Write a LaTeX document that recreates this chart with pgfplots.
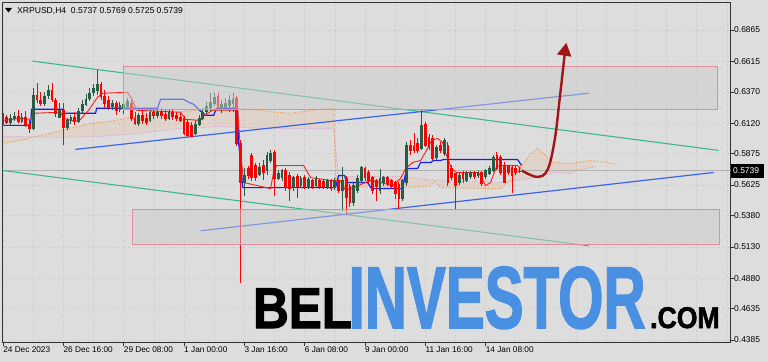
\documentclass[border=0pt]{standalone}
\usepackage{fontspec}
\setmainfont{Liberation Sans}
\newfontfamily\wmfont[FakeBold=2]{Liberation Sans Bold}
\usepackage{pgfplots}
\usepackage{pgfplotstable}
\pgfplotsset{compat=1.18}
\usetikzlibrary{arrows.meta}
\definecolor{bg}{RGB}{221,221,221}
\definecolor{bullc}{RGB}{40,92,68}
\definecolor{bearc}{RGB}{255,0,0}
\definecolor{chgreen}{RGB}{62,182,142}
\definecolor{chblue}{RGB}{60,100,235}
\definecolor{kijun}{RGB}{20,30,245}
\definecolor{tenkan}{RGB}{250,30,30}
\definecolor{spanA}{RGB}{244,164,96}
\definecolor{spanB}{RGB}{216,160,216}
\definecolor{rectb}{RGB}{226,140,160}
\definecolor{arrowc}{RGB}{160,22,22}
\definecolor{wmblue}{RGB}{74,144,226}

\pgfplotstableread{
x o h l c
0 0.6134 0.6199 0.6102 0.6167
2 0.6126 0.6191 0.6094 0.6158
3 0.6158 0.6207 0.6134 0.6175
5 0.6134 0.6199 0.6118 0.6167
8 0.6078 0.6399 0.6062 0.6343
11 0.6271 0.6367 0.6255 0.6335
12 0.6335 0.6423 0.6311 0.6383
15 0.6167 0.6279 0.6158 0.6223
17 0.6086 0.6158 0.6062 0.6142
18 0.6142 0.6183 0.6110 0.6167
20 0.6134 0.6239 0.6118 0.6215
21 0.6215 0.6303 0.6199 0.6271
22 0.6271 0.6351 0.6255 0.6311
23 0.6311 0.6399 0.6295 0.6359
24 0.6359 0.6431 0.6335 0.6399
25 0.6383 0.6544 0.6343 0.6431
29 0.6247 0.6303 0.6223 0.6279
31 0.6223 0.6287 0.6207 0.6263
32 0.6239 0.6303 0.6191 0.6271
33 0.6255 0.6319 0.6223 0.6295
36 0.6118 0.6199 0.6094 0.6183
39 0.6142 0.6223 0.6126 0.6207
41 0.6175 0.6223 0.6158 0.6207
44 0.6158 0.6231 0.6142 0.6207
51 0.6038 0.6142 0.6022 0.6110
52 0.6110 0.6183 0.6094 0.6158
53 0.6158 0.6239 0.6142 0.6207
54 0.6207 0.6287 0.6191 0.6255
55 0.6239 0.6359 0.6215 0.6287
56 0.6271 0.6359 0.6255 0.6327
58 0.6223 0.6303 0.6199 0.6271
59 0.6239 0.6319 0.6223 0.6279
60 0.6255 0.6343 0.6207 0.6303
61 0.6279 0.6359 0.6207 0.6311
64 0.5645 0.5757 0.5540 0.5701
68 0.5709 0.5797 0.5693 0.5765
70 0.5741 0.5885 0.5701 0.5861
71 0.5821 0.5902 0.5797 0.5877
73 0.5677 0.5741 0.5661 0.5717
74 0.5685 0.5757 0.5661 0.5741
77 0.5604 0.5701 0.5580 0.5685
79 0.5620 0.5693 0.5604 0.5677
81 0.5604 0.5693 0.5596 0.5669
83 0.5620 0.5693 0.5612 0.5677
86 0.5612 0.5677 0.5596 0.5661
88 0.5604 0.5685 0.5588 0.5661
90 0.5580 0.5765 0.5420 0.5661
93 0.5484 0.5645 0.5460 0.5620
94 0.5580 0.5701 0.5564 0.5677
95 0.5661 0.5781 0.5645 0.5765
100 0.5580 0.5757 0.5556 0.5677
101 0.5645 0.5701 0.5620 0.5685
106 0.5516 0.5677 0.5500 0.5661
107 0.5645 0.5966 0.5620 0.5942
111 0.5918 0.6223 0.5902 0.6102
115 0.5845 0.5942 0.5821 0.5926
117 0.5877 0.5998 0.5861 0.5982
121 0.5645 0.5725 0.5629 0.5701
123 0.5661 0.5733 0.5645 0.5717
124 0.5693 0.5741 0.5677 0.5725
126 0.5701 0.5741 0.5685 0.5725
128 0.5693 0.5757 0.5677 0.5741
129 0.5717 0.5773 0.5701 0.5757
130 0.5741 0.5861 0.5725 0.5845
137 0.5737 0.5769 0.5725 0.5739
}\bull

\pgfplotstableread{
x o h l c
1 0.6167 0.6183 0.6110 0.6126
4 0.6175 0.6223 0.6118 0.6134
6 0.6167 0.6215 0.6086 0.6110
7 0.6110 0.6142 0.6038 0.6078
9 0.6343 0.6440 0.6279 0.6303
10 0.6303 0.6367 0.6255 0.6271
13 0.6383 0.6440 0.6287 0.6303
14 0.6303 0.6319 0.6167 0.6199
16 0.6223 0.6279 0.5942 0.6086
19 0.6167 0.6207 0.6102 0.6134
26 0.6431 0.6448 0.6303 0.6335
27 0.6335 0.6383 0.6239 0.6271
28 0.6303 0.6335 0.6223 0.6247
30 0.6279 0.6295 0.6183 0.6223
34 0.6279 0.6303 0.6134 0.6158
35 0.6158 0.6207 0.6102 0.6118
37 0.6183 0.6223 0.6110 0.6142
38 0.6158 0.6199 0.6102 0.6126
40 0.6207 0.6231 0.6150 0.6175
42 0.6207 0.6239 0.6150 0.6175
43 0.6191 0.6223 0.6134 0.6158
45 0.6207 0.6223 0.6142 0.6167
46 0.6183 0.6207 0.6134 0.6158
47 0.6167 0.6199 0.6126 0.6142
48 0.6158 0.6175 0.6022 0.6038
49 0.6126 0.6142 0.6006 0.6022
50 0.6102 0.6126 0.6006 0.6014
57 0.6335 0.6359 0.6239 0.6255
62 0.6319 0.6335 0.5934 0.5958
63 0.5958 0.5982 0.4842 0.5645
65 0.5757 0.5781 0.5677 0.5701
66 0.5861 0.5885 0.5661 0.5685
67 0.5781 0.5805 0.5661 0.5685
69 0.5781 0.5821 0.5661 0.5725
72 0.5885 0.5902 0.5540 0.5677
75 0.5741 0.5757 0.5580 0.5604
76 0.5701 0.5725 0.5500 0.5596
78 0.5693 0.5709 0.5524 0.5612
80 0.5685 0.5701 0.5596 0.5612
82 0.5661 0.5677 0.5596 0.5612
84 0.5661 0.5677 0.5596 0.5612
85 0.5653 0.5669 0.5596 0.5612
87 0.5661 0.5677 0.5580 0.5596
89 0.5653 0.5669 0.5564 0.5580
91 0.5677 0.5701 0.5396 0.5524
92 0.5612 0.5629 0.5452 0.5484
96 0.5757 0.5773 0.5661 0.5685
97 0.5725 0.5741 0.5637 0.5661
98 0.5685 0.5701 0.5556 0.5580
99 0.5661 0.5677 0.5500 0.5612
102 0.5685 0.5701 0.5620 0.5637
103 0.5661 0.5677 0.5596 0.5612
104 0.5645 0.5661 0.5516 0.5556
105 0.5629 0.5645 0.5436 0.5516
108 0.5942 0.5982 0.5861 0.5902
109 0.5934 0.6038 0.5877 0.5902
110 0.5958 0.5998 0.5877 0.5902
112 0.6110 0.6126 0.5926 0.5942
113 0.6006 0.6030 0.5902 0.5926
114 0.5998 0.6022 0.5821 0.5837
116 0.5942 0.5966 0.5885 0.5902
118 0.5942 0.5966 0.5620 0.5645
119 0.5757 0.5781 0.5661 0.5685
120 0.5717 0.5725 0.5436 0.5620
122 0.5725 0.5741 0.5645 0.5677
125 0.5725 0.5741 0.5677 0.5693
127 0.5725 0.5741 0.5620 0.5637
131 0.5861 0.5885 0.5741 0.5757
132 0.5845 0.5861 0.5701 0.5725
133 0.5781 0.5805 0.5645 0.5645
134 0.5773 0.5781 0.5701 0.5725
135 0.5765 0.5781 0.5564 0.5701
136 0.5757 0.5773 0.5701 0.5725
}\bear

\begin{document}
\begin{tikzpicture}
\path[use as bounding box] (-2.5bp,-20bp) rectangle (765.5bp,342bp);
\fill[bg] (-2.5bp,-20bp) rectangle (765.5bp,342bp);
\begin{axis}[
  at={(0,0)}, anchor=south west,
  scale only axis, width=728bp, height=339.5bp,
  xmin=-0.15, xmax=192.95, ymin=0.4369, ymax=0.7085,
  axis line style={draw=black!80, line width=0.8bp},
  tick align=outside, major tick length=3.5bp, minor tick length=0pt,
  tick style={draw=black!80, line width=0.6bp},
  xtick pos=bottom, ytick pos=right, yticklabel pos=right,
  xtick={0,16,...,128},
  xticklabels={24 Dec 2023,26 Dec 16:00,29 Dec 08:00,1 Jan 00:00,3 Jan 16:00,6 Jan 08:00,9 Jan 00:00,11 Jan 16:00,14 Jan 08:00},
  minor xtick={8,24,40,56,72,88,104,120,136,144,152,160,168,176,184,192},
  ytick={0.4385,0.4635,0.4880,0.5130,0.5380,0.5625,0.5875,0.6120,0.6370,0.6615,0.6865},
  yticklabels={0.4385,0.4635,0.4880,0.5130,0.5380,0.5625,0.5875,0.6120,0.6370,0.6615,0.6865},
  xmajorgrids, xminorgrids, ymajorgrids,
  grid style={dash pattern=on 2.5bp off 2.5bp, draw=black!20, line width=0.6bp},
  minor grid style={dash pattern=on 2.5bp off 2.5bp, draw=black!20, line width=0.6bp},
  xticklabel style={anchor=north west, inner sep=0pt, yshift=-1.5bp, font=\fontsize{8.3}{10}\selectfont},
  yticklabel style={anchor=west, inner sep=0pt, font=\fontsize{8.5}{10}\selectfont},
  candle/.style n args={2}{draw=none, mark=none, forget plot, error bars/.cd, y dir=both, y explicit, error mark=none, error bar style={solid, line width=#1, draw=#2}},
]
% Ichimoku cloud (area between spans)
\addplot[fill=spanA, fill opacity=0.15, draw=none, forget plot] coordinates {
(0.13,0.5958)(4.64,0.5982)(9.95,0.6022)(17.9,0.6078)(23.2,0.6118)(28.5,0.6134)(33.8,0.6167)(39.1,0.6183)(45.8,0.6207)(51.1,0.6223)(56.4,0.6239)(61.7,0.6239)(68.3,0.6223)(72.3,0.6207)(76.3,0.6199)(80.2,0.6215)(84.2,0.6231)(87.7,0.6239)(88.2,0.5677)(90.8,0.5612)(105.4,0.5604)(112.9,0.5612)(114.5,0.5653)(116.0,0.5604)(131.96,0.5596)(134.6,0.5661)(137.3,0.5773)(139.9,0.5869)(141.8,0.5918)(143.9,0.5861)(145.8,0.5805)(150.5,0.5797)(155.8,0.5821)(157.2,0.5773)(151.9,0.5741)(150.5,0.5717)(146.6,0.5725)(139.9,0.5677)(131.96,0.5645)(116.0,0.5661)(105.4,0.5693)(89.0,0.5693)(87.7,0.6078)(78.9,0.6078)(68.3,0.6078)(57.7,0.6094)(47.1,0.6078)(36.5,0.6038)(25.9,0.6014)(15.25,0.6006)(0.13,0.6014)} -- cycle;
\addplot[spanA, line width=0.9bp, dash pattern=on 2bp off 1.5bp, forget plot] coordinates {
(0.13,0.5958)(4.64,0.5982)(9.95,0.6022)(17.9,0.6078)(23.2,0.6118)(28.5,0.6134)(33.8,0.6167)(39.1,0.6183)(45.8,0.6207)(51.1,0.6223)(56.4,0.6239)(61.7,0.6239)(68.3,0.6223)(72.3,0.6207)(76.3,0.6199)(80.2,0.6215)(84.2,0.6231)(87.7,0.6239)(88.2,0.5677)(90.8,0.5612)(105.4,0.5604)(112.9,0.5612)(114.5,0.5653)(116.0,0.5604)(131.96,0.5596)(134.6,0.5661)(137.3,0.5773)(139.9,0.5869)(141.8,0.5918)(143.9,0.5861)(145.8,0.5805)(150.5,0.5797)(155.8,0.5821)(159.8,0.5805)(163.0,0.5789)};
\addplot[spanB, line width=0.9bp, dash pattern=on 1bp off 1.5bp, forget plot] coordinates {
(0.13,0.6014)(15.25,0.6006)(25.9,0.6014)(36.5,0.6038)(47.1,0.6078)(57.7,0.6094)(68.3,0.6078)(78.9,0.6078)(87.7,0.6078)(89.0,0.5693)(105.4,0.5693)(116.0,0.5661)(131.96,0.5645)(139.9,0.5677)(146.6,0.5725)(150.5,0.5717)(151.9,0.5741)(157.2,0.5773)};
% current price line
\addplot[black!30, line width=0.6bp, forget plot] coordinates {(-0.15,0.5739)(192.95,0.5739)};
% Kijun
\addplot[kijun, line width=1.2bp, forget plot] coordinates {
(0.13,0.6102)(7.29,0.6102)(7.56,0.6231)(16.05,0.6231)(16.31,0.6199)(24.54,0.6199)(24.80,0.6239)(40.98,0.6239)(41.78,0.6311)(47.88,0.6311)(49.20,0.6287)(50.53,0.6271)(52.39,0.6215)(53.71,0.6183)(55.84,0.6183)(56.63,0.6239)(62.20,0.6239)(62.47,0.5966)(63.00,0.5821)(63.53,0.5604)(88.20,0.5604)(89.0,0.5701)(90.58,0.5701)(91.11,0.5645)(96.68,0.5645)(97.75,0.5596)(105.97,0.5596)(107.03,0.5757)(109.95,0.5757)(110.74,0.5805)(113.40,0.5805)(114.19,0.5821)(116.05,0.5821)(116.84,0.5829)(136.47,0.5829)(137.53,0.5781)};
% Tenkan
\addplot[tenkan, line width=0.9bp, forget plot] coordinates {
(0.13,0.6142)(4.64,0.6158)(7.29,0.6150)(8.09,0.6199)(15.25,0.6207)(16.05,0.6158)(19.23,0.6134)(20.56,0.6150)(22.68,0.6223)(25.07,0.6327)(26.39,0.6359)(33.02,0.6367)(34.35,0.6303)(35.41,0.6223)(47.08,0.6207)(48.41,0.6150)(52.39,0.6142)(53.45,0.6183)(55.57,0.6223)(62.20,0.6223)(63.00,0.5902)(63.79,0.5645)(70.95,0.5596)(71.75,0.5725)(72.55,0.5781)(79.71,0.5781)(81.56,0.5685)(86.87,0.5661)(89.52,0.5661)(90.85,0.5580)(93.50,0.5612)(97.48,0.5661)(100.13,0.5645)(103.32,0.5620)(105.44,0.5677)(106.76,0.5757)(108.62,0.5805)(110.74,0.5821)(112.33,0.5902)(113.66,0.5982)(115.25,0.5998)(116.58,0.5966)(117.64,0.5861)(118.96,0.5757)(120.29,0.5725)(126.13,0.5725)(127.98,0.5620)(129.31,0.5645)(130.90,0.5773)(131.96,0.5781)(136.47,0.5781)(137.27,0.5757)};
% channel lines
\addplot[chgreen, line width=1.1bp, forget plot] coordinates {(7.8,0.6616)(189.8,0.5902)};
\addplot[chgreen, line width=1.1bp, forget plot] coordinates {(-0.15,0.5741)(155.3,0.5139)};
\addplot[chblue, line width=1.2bp, forget plot] coordinates {(19.2,0.5910)(155.3,0.6359)};
\addplot[chblue, line width=1.2bp, forget plot] coordinates {(52.4,0.5259)(188.5,0.5725)};
% candles: wicks
\addplot[candle={0.9bp}{bullc}]
  table[x=x, y expr={(\thisrow{h}+\thisrow{l})/2}, y error expr={(\thisrow{h}-\thisrow{l})/2}] {\bull};
\addplot[candle={0.9bp}{bearc}]
  table[x=x, y expr={(\thisrow{h}+\thisrow{l})/2}, y error expr={(\thisrow{h}-\thisrow{l})/2}] {\bear};
% candles: bodies
\addplot[candle={2.8bp}{bullc}]
  table[x=x, y expr={(\thisrow{o}+\thisrow{c})/2}, y error expr={(\thisrow{c}-\thisrow{o})/2+0.0002}] {\bull};
\addplot[candle={2.8bp}{bearc}]
  table[x=x, y expr={(\thisrow{o}+\thisrow{c})/2}, y error expr={(\thisrow{o}-\thisrow{c})/2+0.0002}] {\bear};
% zones
\draw[draw=rectb, line width=1bp, fill=black!20, fill opacity=0.5] (axis cs:32.0,0.6228) rectangle (axis cs:189.5,0.6576);
\draw[draw=rectb, line width=1bp, fill=black!20, fill opacity=0.5] (axis cs:34.3,0.5152) rectangle (axis cs:190.1,0.5425);
% arrow
\addplot[arrowc, line width=2.4bp, smooth, tension=0.6, -{Triangle[length=13bp,width=14bp]}, forget plot] coordinates {(137.6,0.5741)(141.6,0.5690)(144.4,0.5745)(146.3,0.5982)(147.7,0.6330)(148.9,0.6651)(149.4,0.6763)};
\end{axis}
% price label
\fill[black] (728.5bp,164bp) rectangle (761.5bp,178bp);
\node[white, anchor=west, inner sep=0pt, font=\fontsize{8.5}{10}\selectfont] at (730.5bp,171bp) {0.5739};
% title
\fill[black] (2.5bp,334bp) -- (9.5bp,334bp) -- (6bp,329.5bp) -- cycle;
\node[anchor=base west, inner sep=0pt, font=\fontsize{8.6}{10}\selectfont] at (14.5bp,328.5bp) {XRPUSD,H4\ \ 0.5737 0.5769 0.5725 0.5739};
% watermark
\node[anchor=base west, inner sep=0pt, text depth=0pt, xscale=0.86, font=\wmfont\fontsize{57.6}{60}\selectfont, text=black] at (250.5bp,14bp) {BEL};
\node[anchor=base west, inner sep=0pt, text depth=0pt, xscale=0.665, font=\wmfont\fontsize{88}{90}\selectfont, text=wmblue] at (346bp,14bp) {INVESTOR};
\node[anchor=base west, inner sep=0pt, text depth=0pt, xscale=0.89, font=\wmfont\fontsize{30}{32}\selectfont, text=black] at (647.5bp,14bp) {.COM};
\end{tikzpicture}
\end{document}
